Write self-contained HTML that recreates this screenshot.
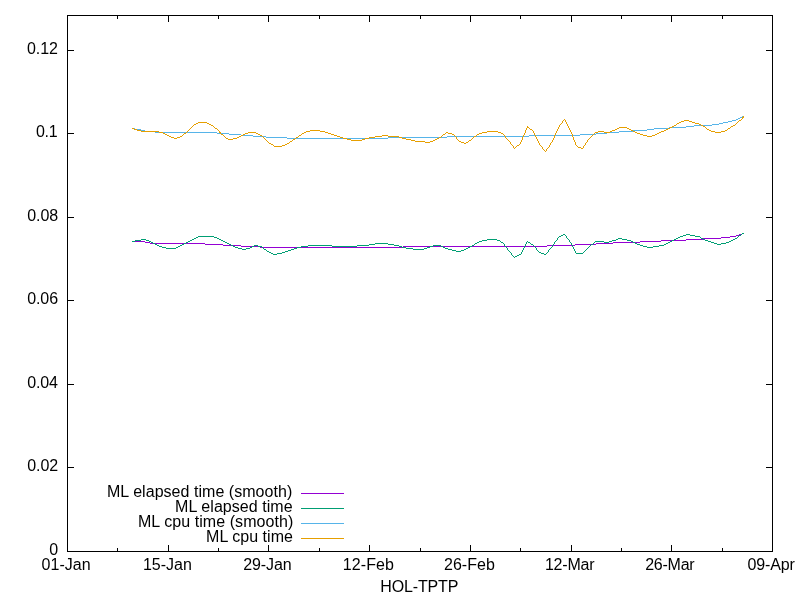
<!DOCTYPE html>
<html><head><meta charset="utf-8"><title>HOL-TPTP</title>
<style>html,body{margin:0;padding:0;background:#fff;width:800px;height:600px;overflow:hidden}svg{display:block;will-change:transform}</style>
</head><body>
<svg width="800" height="600" viewBox="0 0 800 600"><rect width="800" height="600" fill="#fff"/><path d="M67 545h1v6h-1zM67 16h1v6h-1zM168 545h1v6h-1zM168 16h1v6h-1zM268 545h1v6h-1zM268 16h1v6h-1zM369 545h1v6h-1zM369 16h1v6h-1zM470 545h1v6h-1zM470 16h1v6h-1zM571 545h1v6h-1zM571 16h1v6h-1zM671 545h1v6h-1zM671 16h1v6h-1zM772 545h1v6h-1zM772 16h1v6h-1zM117 548h1v3h-1zM117 16h1v3h-1zM218 548h1v3h-1zM218 16h1v3h-1zM319 548h1v3h-1zM319 16h1v3h-1zM420 548h1v3h-1zM420 16h1v3h-1zM520 548h1v3h-1zM520 16h1v3h-1zM621 548h1v3h-1zM621 16h1v3h-1zM722 548h1v3h-1zM722 16h1v3h-1zM68 551h6v1h-6zM766 551h6v1h-6zM68 467h6v1h-6zM766 467h6v1h-6zM68 384h6v1h-6zM766 384h6v1h-6zM68 300h6v1h-6zM766 300h6v1h-6zM68 217h6v1h-6zM766 217h6v1h-6zM68 133h6v1h-6zM766 133h6v1h-6zM68 50h6v1h-6zM766 50h6v1h-6zM67 15h706v1h-706zM67 551h706v1h-706zM67 15h1v537h-1zM772 15h1v537h-1z" fill="#000" shape-rendering="crispEdges"/><text x="49.17" y="555" textLength="9.04" lengthAdjust="spacing" font-family="Liberation Sans, sans-serif" font-size="16" fill="#000">0</text><text x="27.27" y="471" textLength="30.86" lengthAdjust="spacing" font-family="Liberation Sans, sans-serif" font-size="16" fill="#000">0.02</text><text x="27.27" y="388" textLength="30.66" lengthAdjust="spacing" font-family="Liberation Sans, sans-serif" font-size="16" fill="#000">0.04</text><text x="27.27" y="304" textLength="30.79" lengthAdjust="spacing" font-family="Liberation Sans, sans-serif" font-size="16" fill="#000">0.06</text><text x="27.27" y="221" textLength="30.83" lengthAdjust="spacing" font-family="Liberation Sans, sans-serif" font-size="16" fill="#000">0.08</text><text x="36.07" y="137" textLength="21.51" lengthAdjust="spacing" font-family="Liberation Sans, sans-serif" font-size="16" fill="#000">0.1</text><text x="27.07" y="54" textLength="30.76" lengthAdjust="spacing" font-family="Liberation Sans, sans-serif" font-size="16" fill="#000">0.12</text><text x="41.57" y="570" textLength="49.15" lengthAdjust="spacing" font-family="Liberation Sans, sans-serif" font-size="16" fill="#000">01-Jan</text><text x="142.90" y="570" textLength="49.02" lengthAdjust="spacing" font-family="Liberation Sans, sans-serif" font-size="16" fill="#000">15-Jan</text><text x="243.21" y="570" textLength="48.51" lengthAdjust="spacing" font-family="Liberation Sans, sans-serif" font-size="16" fill="#000">29-Jan</text><text x="342.65" y="570" textLength="51.35" lengthAdjust="spacing" font-family="Liberation Sans, sans-serif" font-size="16" fill="#000">12-Feb</text><text x="444.01" y="570" textLength="50.79" lengthAdjust="spacing" font-family="Liberation Sans, sans-serif" font-size="16" fill="#000">26-Feb</text><text x="544.90" y="570" textLength="49.76" lengthAdjust="spacing" font-family="Liberation Sans, sans-serif" font-size="16" fill="#000">12-Mar</text><text x="645.21" y="570" textLength="49.45" lengthAdjust="spacing" font-family="Liberation Sans, sans-serif" font-size="16" fill="#000">26-Mar</text><text x="747.57" y="570" textLength="47.37" lengthAdjust="spacing" font-family="Liberation Sans, sans-serif" font-size="16" fill="#000">09-Apr</text><text x="380.32" y="592" textLength="78.07" lengthAdjust="spacing" font-family="Liberation Sans, sans-serif" font-size="16" fill="#000">HOL-TPTP</text><text x="106.98" y="497" textLength="185.26" lengthAdjust="spacing" font-family="Liberation Sans, sans-serif" font-size="16" fill="#000">ML elapsed time (smooth)</text><path d="M301 493h43v1h-43z" fill="#9400d3" shape-rendering="crispEdges"/><text x="175.08" y="512" textLength="117.57" lengthAdjust="spacing" font-family="Liberation Sans, sans-serif" font-size="16" fill="#000">ML elapsed time</text><path d="M301 508h43v1h-43z" fill="#009e73" shape-rendering="crispEdges"/><text x="137.88" y="527" textLength="155.46" lengthAdjust="spacing" font-family="Liberation Sans, sans-serif" font-size="16" fill="#000">ML cpu time (smooth)</text><path d="M301 523h43v1h-43z" fill="#56b4e9" shape-rendering="crispEdges"/><text x="206.03" y="542" textLength="86.87" lengthAdjust="spacing" font-family="Liberation Sans, sans-serif" font-size="16" fill="#000">ML cpu time</text><path d="M301 538h43v1h-43z" fill="#e69f00" shape-rendering="crispEdges"/><path d="M132 241h13v1h-13zM145 242h5v1h-5zM150 243h55v1h-55zM205 244h18v1h-18zM223 245h18v1h-18zM241 246h19v1h-19zM260 247h143v1h-143zM403 246h144v1h-144zM547 245h28v1h-28zM575 244h21v1h-21zM596 243h17v1h-17zM613 242h27v1h-27zM640 241h21v1h-21zM661 240h25v1h-25zM686 239h17v1h-17zM703 238h18v1h-18zM721 237h9v1h-9zM730 236h6v1h-6zM736 235h3v1h-3zM739 234h3v1h-3zM742 233h2v1h-2z" fill="#9400d3" shape-rendering="crispEdges"/><polyline points="132.5,241.5 134.5,241.5 135.5,240.5 140.5,240.5 141.5,239.5 145.5,239.5 146.5,240.5 148.5,240.5 149.5,241.5 150.5,241.5 151.5,242.5 152.5,242.5 153.5,243.5 154.5,243.5 155.5,244.5 156.5,244.5 157.5,245.5 158.5,245.5 159.5,246.5 161.5,246.5 162.5,247.5 165.5,247.5 166.5,248.5 175.5,248.5 176.5,247.5 177.5,247.5 178.5,246.5 179.5,246.5 180.5,245.5 181.5,245.5 182.5,244.5 183.5,244.5 184.5,243.5 185.5,243.5 186.5,242.5 187.5,242.5 188.5,241.5 189.5,241.5 190.5,240.5 191.5,240.5 192.5,239.5 193.5,239.5 194.5,238.5 195.5,238.5 196.5,237.5 197.5,237.5 198.5,236.5 213.5,236.5 214.5,237.5 216.5,237.5 217.5,238.5 218.5,238.5 219.5,239.5 220.5,239.5 221.5,240.5 222.5,240.5 223.5,241.5 224.5,241.5 225.5,242.5 226.5,242.5 227.5,243.5 228.5,243.5 229.5,244.5 230.5,244.5 231.5,245.5 232.5,245.5 233.5,246.5 234.5,246.5 235.5,247.5 237.5,247.5 238.5,248.5 241.5,248.5 242.5,249.5 245.5,249.5 246.5,248.5 249.5,248.5 250.5,247.5 251.5,247.5 252.5,246.5 253.5,246.5 254.5,245.5 257.5,245.5 258.5,246.5 261.5,246.5 262.5,247.5 263.5,248.5 264.5,249.5 265.5,249.5 266.5,250.5 267.5,251.5 268.5,251.5 269.5,252.5 270.5,252.5 271.5,253.5 272.5,253.5 273.5,254.5 276.5,254.5 277.5,253.5 281.5,253.5 282.5,252.5 284.5,252.5 285.5,251.5 287.5,251.5 288.5,250.5 290.5,250.5 291.5,249.5 293.5,249.5 294.5,248.5 296.5,248.5 297.5,247.5 300.5,247.5 301.5,246.5 307.5,246.5 308.5,245.5 331.5,245.5 332.5,246.5 356.5,246.5 357.5,245.5 368.5,245.5 369.5,244.5 374.5,244.5 375.5,243.5 387.5,243.5 388.5,244.5 393.5,244.5 394.5,245.5 398.5,245.5 399.5,246.5 401.5,246.5 402.5,247.5 405.5,247.5 406.5,248.5 412.5,248.5 413.5,249.5 423.5,249.5 424.5,248.5 426.5,248.5 427.5,247.5 429.5,247.5 430.5,246.5 432.5,246.5 433.5,245.5 440.5,245.5 441.5,246.5 442.5,246.5 443.5,247.5 444.5,247.5 445.5,248.5 447.5,248.5 448.5,249.5 451.5,249.5 452.5,250.5 455.5,250.5 456.5,251.5 460.5,251.5 461.5,250.5 463.5,250.5 464.5,249.5 465.5,249.5 466.5,248.5 467.5,248.5 468.5,247.5 469.5,247.5 470.5,246.5 471.5,246.5 472.5,245.5 473.5,245.5 474.5,244.5 475.5,243.5 476.5,243.5 477.5,242.5 478.5,242.5 479.5,241.5 481.5,241.5 482.5,240.5 486.5,240.5 487.5,239.5 496.5,239.5 497.5,240.5 499.5,240.5 500.5,241.5 501.5,242.5 502.5,242.5 503.5,243.5 504.5,244.5 504.5,245.5 505.5,246.5 506.5,247.5 507.5,248.5 507.5,249.5 508.5,250.5 509.5,251.5 510.5,252.5 511.5,253.5 511.5,254.5 512.5,255.5 513.5,256.5 514.5,257.5 515.5,256.5 516.5,256.5 517.5,255.5 518.5,255.5 519.5,254.5 520.5,254.5 521.5,253.5 521.5,252.5 522.5,251.5 522.5,250.5 523.5,249.5 523.5,248.5 524.5,247.5 524.5,246.5 525.5,245.5 525.5,244.5 526.5,243.5 526.5,242.5 527.5,241.5 528.5,242.5 529.5,242.5 530.5,243.5 531.5,244.5 532.5,244.5 533.5,245.5 534.5,246.5 535.5,247.5 536.5,248.5 536.5,249.5 537.5,250.5 538.5,251.5 539.5,252.5 540.5,252.5 541.5,253.5 543.5,253.5 544.5,254.5 545.5,254.5 546.5,253.5 547.5,252.5 548.5,251.5 548.5,250.5 549.5,249.5 550.5,248.5 551.5,247.5 552.5,246.5 552.5,245.5 553.5,244.5 554.5,243.5 554.5,242.5 555.5,241.5 556.5,240.5 557.5,239.5 557.5,238.5 558.5,237.5 559.5,236.5 560.5,236.5 561.5,235.5 562.5,235.5 563.5,234.5 564.5,234.5 565.5,235.5 566.5,236.5 566.5,237.5 567.5,238.5 568.5,239.5 569.5,240.5 569.5,241.5 570.5,242.5 571.5,243.5 571.5,244.5 572.5,245.5 572.5,246.5 573.5,247.5 573.5,248.5 574.5,249.5 574.5,250.5 575.5,251.5 575.5,252.5 576.5,253.5 582.5,253.5 583.5,252.5 584.5,251.5 585.5,250.5 586.5,249.5 587.5,248.5 588.5,247.5 589.5,246.5 590.5,245.5 591.5,244.5 592.5,244.5 593.5,243.5 594.5,242.5 595.5,241.5 603.5,241.5 604.5,242.5 608.5,242.5 609.5,241.5 611.5,241.5 612.5,240.5 615.5,240.5 616.5,239.5 617.5,239.5 618.5,238.5 621.5,238.5 622.5,239.5 626.5,239.5 627.5,240.5 630.5,240.5 631.5,241.5 632.5,241.5 633.5,242.5 634.5,242.5 635.5,243.5 636.5,243.5 637.5,244.5 639.5,244.5 640.5,245.5 642.5,245.5 643.5,246.5 646.5,246.5 647.5,247.5 652.5,247.5 653.5,246.5 658.5,246.5 659.5,245.5 663.5,245.5 664.5,244.5 665.5,244.5 666.5,243.5 667.5,243.5 668.5,242.5 669.5,242.5 670.5,241.5 671.5,241.5 672.5,240.5 673.5,240.5 674.5,239.5 675.5,239.5 676.5,238.5 677.5,238.5 678.5,237.5 679.5,237.5 680.5,236.5 682.5,236.5 683.5,235.5 685.5,235.5 686.5,234.5 689.5,234.5 690.5,235.5 694.5,235.5 695.5,236.5 699.5,236.5 700.5,237.5 701.5,238.5 702.5,238.5 703.5,239.5 704.5,239.5 705.5,240.5 707.5,240.5 708.5,241.5 710.5,241.5 711.5,242.5 713.5,242.5 714.5,243.5 716.5,243.5 717.5,244.5 720.5,244.5 721.5,243.5 725.5,243.5 726.5,242.5 728.5,242.5 729.5,241.5 730.5,241.5 731.5,240.5 732.5,240.5 733.5,239.5 734.5,239.5 735.5,238.5 736.5,238.5 737.5,237.5 738.5,236.5 739.5,235.5 740.5,235.5 741.5,234.5 742.5,233.5 743.5,233.5" fill="none" stroke="#009e73" stroke-width="1" stroke-linecap="square" shape-rendering="crispEdges"/><path d="M132 128h3v1h-3zM135 129h6v1h-6zM141 130h4v1h-4zM145 131h10v1h-10zM155 132h62v1h-62zM217 133h12v1h-12zM229 134h12v1h-12zM241 135h12v1h-12zM253 136h13v1h-13zM266 137h21v1h-21zM287 138h101v1h-101zM388 137h59v1h-59zM447 136h82v1h-82zM529 135h51v1h-51zM580 134h16v1h-16zM596 133h11v1h-11zM607 132h12v1h-12zM619 131h14v1h-14zM633 130h14v1h-14zM647 129h7v1h-7zM654 128h15v1h-15zM669 127h17v1h-17zM686 126h8v1h-8zM694 125h18v1h-18zM712 124h7v1h-7zM719 123h4v1h-4zM723 122h5v1h-5zM728 121h4v1h-4zM732 120h4v1h-4zM736 119h2v1h-2zM738 118h2v1h-2zM740 117h2v1h-2zM742 116h2v1h-2z" fill="#56b4e9" shape-rendering="crispEdges"/><polyline points="132.5,128.5 133.5,128.5 134.5,129.5 136.5,129.5 137.5,130.5 140.5,130.5 141.5,131.5 158.5,131.5 159.5,132.5 162.5,132.5 163.5,133.5 164.5,133.5 165.5,134.5 166.5,134.5 167.5,135.5 168.5,135.5 169.5,136.5 170.5,136.5 171.5,137.5 173.5,137.5 174.5,138.5 176.5,138.5 177.5,137.5 179.5,137.5 180.5,136.5 181.5,136.5 182.5,135.5 183.5,134.5 184.5,133.5 185.5,133.5 186.5,132.5 187.5,131.5 188.5,130.5 189.5,129.5 190.5,128.5 191.5,127.5 192.5,126.5 193.5,125.5 194.5,124.5 195.5,124.5 196.5,123.5 197.5,123.5 198.5,122.5 206.5,122.5 207.5,123.5 208.5,123.5 209.5,124.5 210.5,124.5 211.5,125.5 212.5,125.5 213.5,126.5 214.5,127.5 215.5,128.5 216.5,128.5 217.5,129.5 218.5,130.5 219.5,131.5 220.5,133.5 221.5,134.5 222.5,134.5 223.5,135.5 224.5,136.5 225.5,137.5 226.5,138.5 227.5,138.5 228.5,139.5 232.5,139.5 233.5,138.5 236.5,138.5 237.5,137.5 238.5,137.5 239.5,136.5 240.5,136.5 241.5,135.5 242.5,135.5 243.5,134.5 244.5,134.5 245.5,133.5 247.5,133.5 248.5,132.5 255.5,132.5 256.5,133.5 257.5,133.5 258.5,134.5 259.5,134.5 260.5,135.5 261.5,135.5 262.5,136.5 263.5,137.5 264.5,138.5 265.5,139.5 266.5,140.5 267.5,141.5 268.5,142.5 269.5,143.5 270.5,143.5 271.5,144.5 272.5,144.5 273.5,145.5 274.5,146.5 281.5,146.5 282.5,145.5 284.5,145.5 285.5,144.5 286.5,144.5 287.5,143.5 288.5,143.5 289.5,142.5 290.5,141.5 291.5,141.5 292.5,140.5 293.5,139.5 294.5,139.5 295.5,138.5 296.5,137.5 297.5,137.5 298.5,136.5 299.5,135.5 300.5,135.5 301.5,134.5 302.5,133.5 303.5,133.5 304.5,132.5 305.5,132.5 306.5,131.5 309.5,131.5 310.5,130.5 319.5,130.5 320.5,131.5 324.5,131.5 325.5,132.5 327.5,132.5 328.5,133.5 330.5,133.5 331.5,134.5 333.5,134.5 334.5,135.5 336.5,135.5 337.5,136.5 339.5,136.5 340.5,137.5 342.5,137.5 343.5,138.5 346.5,138.5 347.5,139.5 350.5,139.5 351.5,140.5 361.5,140.5 362.5,139.5 364.5,139.5 365.5,138.5 368.5,138.5 369.5,137.5 374.5,137.5 375.5,136.5 381.5,136.5 382.5,135.5 387.5,135.5 388.5,136.5 398.5,136.5 399.5,137.5 401.5,137.5 402.5,138.5 405.5,138.5 406.5,139.5 410.5,139.5 411.5,140.5 414.5,140.5 415.5,141.5 424.5,141.5 425.5,142.5 429.5,142.5 430.5,141.5 432.5,141.5 433.5,140.5 434.5,140.5 435.5,139.5 436.5,139.5 437.5,138.5 438.5,138.5 439.5,137.5 440.5,137.5 441.5,136.5 442.5,135.5 443.5,134.5 444.5,134.5 445.5,133.5 446.5,132.5 447.5,132.5 448.5,133.5 451.5,133.5 452.5,134.5 453.5,134.5 454.5,135.5 455.5,136.5 456.5,137.5 456.5,138.5 457.5,139.5 458.5,140.5 459.5,141.5 460.5,141.5 461.5,142.5 463.5,142.5 464.5,143.5 465.5,143.5 466.5,142.5 467.5,142.5 468.5,141.5 469.5,140.5 470.5,140.5 471.5,139.5 472.5,138.5 473.5,137.5 474.5,136.5 475.5,136.5 476.5,135.5 477.5,134.5 478.5,134.5 479.5,133.5 481.5,133.5 482.5,132.5 486.5,132.5 487.5,131.5 497.5,131.5 498.5,132.5 500.5,132.5 501.5,133.5 502.5,133.5 503.5,134.5 504.5,135.5 505.5,136.5 505.5,137.5 506.5,138.5 507.5,139.5 508.5,140.5 509.5,141.5 510.5,142.5 510.5,143.5 511.5,144.5 512.5,145.5 513.5,146.5 513.5,147.5 514.5,148.5 515.5,147.5 516.5,146.5 517.5,145.5 518.5,145.5 519.5,144.5 520.5,143.5 520.5,142.5 521.5,141.5 521.5,140.5 522.5,139.5 522.5,137.5 523.5,136.5 523.5,135.5 524.5,134.5 524.5,133.5 525.5,132.5 525.5,130.5 526.5,129.5 526.5,128.5 527.5,127.5 527.5,126.5 528.5,127.5 529.5,128.5 530.5,129.5 531.5,129.5 532.5,130.5 533.5,131.5 533.5,132.5 534.5,133.5 534.5,134.5 535.5,135.5 535.5,136.5 536.5,137.5 536.5,138.5 537.5,139.5 537.5,140.5 538.5,141.5 538.5,142.5 539.5,143.5 539.5,144.5 540.5,145.5 541.5,146.5 542.5,147.5 542.5,148.5 543.5,149.5 544.5,150.5 545.5,151.5 546.5,150.5 546.5,149.5 547.5,148.5 548.5,147.5 549.5,146.5 549.5,145.5 550.5,144.5 550.5,143.5 551.5,142.5 552.5,141.5 552.5,140.5 553.5,139.5 553.5,138.5 554.5,137.5 554.5,135.5 555.5,134.5 555.5,133.5 556.5,132.5 556.5,131.5 557.5,130.5 557.5,129.5 558.5,128.5 558.5,127.5 559.5,126.5 559.5,125.5 560.5,124.5 561.5,123.5 562.5,122.5 562.5,121.5 563.5,120.5 564.5,119.5 565.5,120.5 565.5,121.5 566.5,122.5 566.5,123.5 567.5,124.5 567.5,125.5 568.5,126.5 568.5,127.5 569.5,128.5 569.5,129.5 570.5,130.5 570.5,131.5 571.5,132.5 571.5,133.5 572.5,134.5 572.5,136.5 573.5,137.5 573.5,139.5 574.5,140.5 574.5,141.5 575.5,142.5 575.5,144.5 576.5,145.5 577.5,146.5 578.5,147.5 580.5,147.5 581.5,148.5 582.5,148.5 583.5,147.5 583.5,146.5 584.5,145.5 585.5,144.5 585.5,143.5 586.5,142.5 587.5,141.5 587.5,140.5 588.5,139.5 589.5,138.5 590.5,137.5 591.5,136.5 592.5,135.5 593.5,134.5 594.5,133.5 595.5,132.5 597.5,132.5 598.5,131.5 603.5,131.5 604.5,132.5 609.5,132.5 610.5,131.5 611.5,131.5 612.5,130.5 614.5,130.5 615.5,129.5 616.5,129.5 617.5,128.5 618.5,128.5 619.5,127.5 626.5,127.5 627.5,128.5 628.5,128.5 629.5,129.5 630.5,129.5 631.5,130.5 632.5,130.5 633.5,131.5 634.5,131.5 635.5,132.5 636.5,132.5 637.5,133.5 639.5,133.5 640.5,134.5 642.5,134.5 643.5,135.5 646.5,135.5 647.5,136.5 651.5,136.5 652.5,135.5 654.5,135.5 655.5,134.5 656.5,134.5 657.5,133.5 658.5,133.5 659.5,132.5 660.5,132.5 661.5,131.5 663.5,131.5 664.5,130.5 665.5,130.5 666.5,129.5 667.5,129.5 668.5,128.5 669.5,128.5 670.5,127.5 671.5,127.5 672.5,126.5 673.5,126.5 674.5,125.5 675.5,125.5 676.5,124.5 677.5,123.5 678.5,123.5 679.5,122.5 680.5,122.5 681.5,121.5 683.5,121.5 684.5,120.5 688.5,120.5 689.5,121.5 691.5,121.5 692.5,122.5 694.5,122.5 695.5,123.5 698.5,123.5 699.5,124.5 700.5,124.5 701.5,125.5 702.5,125.5 703.5,126.5 704.5,126.5 705.5,127.5 706.5,128.5 707.5,129.5 708.5,129.5 709.5,130.5 710.5,130.5 711.5,131.5 714.5,131.5 715.5,132.5 720.5,132.5 721.5,131.5 724.5,131.5 725.5,130.5 726.5,130.5 727.5,129.5 728.5,128.5 729.5,128.5 730.5,127.5 731.5,126.5 732.5,126.5 733.5,125.5 734.5,125.5 735.5,124.5 736.5,123.5 737.5,122.5 738.5,121.5 739.5,120.5 740.5,120.5 741.5,119.5 742.5,118.5 743.5,116.5" fill="none" stroke="#e69f00" stroke-width="1" stroke-linecap="square" shape-rendering="crispEdges"/></svg>
</body></html>
